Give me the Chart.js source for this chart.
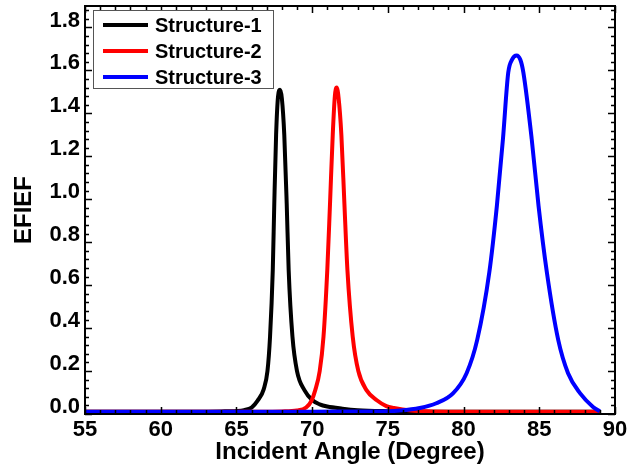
<!DOCTYPE html>
<html>
<head>
<meta charset="utf-8">
<title>EFIEF vs Incident Angle</title>
<script src="https://cdn.jsdelivr.net/npm/chart.js@4.4.1/dist/chart.umd.min.js"></script>
<style>
    html, body { margin: 0; padding: 0; background: #ffffff; }
    #wrap { width: 639px; height: 471px; }
</style>
</head>
<body>
<div id="wrap"><canvas id="efiefChart" width="639" height="471"></canvas></div>
<script>
// Dati (angolo in gradi, EFIEF)
const seriesLabels = ["Structure-1", "Structure-2", "Structure-3"];
const seriesColors = ["#000000", "#ff0000", "#0000ff"];

const s1Angle = [55, 60, 64, 65, 65.5, 66.0, 66.4, 66.8, 67.05, 67.22, 67.4, 67.5, 67.62, 67.75, 67.88, 68.0, 68.16, 68.32, 68.45, 68.7, 69.0, 69.5, 70.0, 70.5, 71, 72, 73, 75, 77, 80, 85, 89];
const s1Efief = [0.01, 0.01, 0.012, 0.014, 0.018, 0.03, 0.062, 0.115, 0.2, 0.36, 0.67, 0.98, 1.3, 1.48, 1.51, 1.47, 1.3, 0.98, 0.67, 0.36, 0.2, 0.11, 0.065, 0.045, 0.035, 0.025, 0.018, 0.013, 0.011, 0.01, 0.01, 0.01];

const s2Angle = [55, 60, 65, 68, 69, 69.6, 69.97, 70.2, 70.5, 70.75, 71.0, 71.18, 71.36, 71.5, 71.62, 71.75, 71.93, 72.13, 72.33, 72.68, 73.05, 73.6, 74.27, 74.9, 75.4, 76.5, 78, 80, 85, 89];
const s2Efief = [0.01, 0.01, 0.01, 0.012, 0.016, 0.03, 0.064, 0.11, 0.2, 0.36, 0.67, 0.98, 1.3, 1.48, 1.52, 1.47, 1.3, 0.98, 0.67, 0.36, 0.2, 0.11, 0.064, 0.037, 0.028, 0.016, 0.012, 0.01, 0.01, 0.01];

const s3Angle = [55, 65, 70, 73, 75, 75.8, 77.1, 78.2, 79.3, 80.2, 80.9, 81.7, 82.2, 82.6, 82.95, 83.2, 83.5, 83.75, 83.95, 84.5, 84.95, 85.5, 86.25, 86.9, 87.7, 88.55, 89.0];
const s3Efief = [0.01, 0.01, 0.011, 0.012, 0.013, 0.016, 0.028, 0.05, 0.096, 0.19, 0.345, 0.66, 0.97, 1.28, 1.59, 1.65, 1.67, 1.65, 1.59, 1.28, 0.97, 0.66, 0.345, 0.19, 0.096, 0.033, 0.012];

// Assi
const X_MIN = 55, X_MAX = 90, X_STEP = 5, X_MINOR = 1;
const Y_MIN = 0, Y_MAX = 1.9, Y_STEP = 0.2, Y_MINOR = 0.04;
const yTickValues = [0, 0.2, 0.4, 0.6, 0.8, 1.0, 1.2, 1.4, 1.6, 1.8];

function toPoints(xs, ys) {
    return xs.map((x, i) => ({ x: x, y: ys[i] }));
}

// Cornice del grafico con tacche rivolte verso l'interno
const frameTicks = {
    id: "frameTicks",
    afterDatasetsDraw(chart) {
        const { ctx, chartArea: a, scales: { x, y } } = chart;
        ctx.save();
        ctx.strokeStyle = "#000";
        ctx.lineWidth = 1.5;
        ctx.beginPath();
        const nx = Math.round((X_MAX - X_MIN) / X_MINOR);
        for (let i = 0; i <= nx; i++) {
            const v = X_MIN + i * X_MINOR;
            const px = Math.round(x.getPixelForValue(v)) + 0.5;
            const len = (i % Math.round(X_STEP / X_MINOR) === 0) ? 7 : 4;
            ctx.moveTo(px, a.bottom); ctx.lineTo(px, a.bottom - len);
            ctx.moveTo(px, a.top); ctx.lineTo(px, a.top + len);
        }
        const ny = Math.floor((Y_MAX - Y_MIN) / Y_MINOR + 1e-6);
        for (let i = 0; i <= ny; i++) {
            const v = Y_MIN + i * Y_MINOR;
            const py = Math.round(y.getPixelForValue(v)) + 0.5;
            const len = (i % Math.round(Y_STEP / Y_MINOR) === 0) ? 7 : 4;
            ctx.moveTo(a.left, py); ctx.lineTo(a.left + len, py);
            ctx.moveTo(a.right, py); ctx.lineTo(a.right - len, py);
        }
        ctx.stroke();
        ctx.lineWidth = 2;
        ctx.strokeRect(a.left, a.top, a.right - a.left, a.bottom - a.top);
        ctx.restore();
    }
};

// Legenda dentro l'area del grafico, in alto a sinistra
const boxLegend = {
    id: "boxLegend",
    afterDraw(chart) {
        const { ctx, chartArea: a } = chart;
        const x0 = a.left + 8, y0 = a.top + 4, w = 180, rowH = 26;
        ctx.save();
        ctx.fillStyle = "#ffffff";
        ctx.fillRect(x0, y0, w, rowH * 3);
        ctx.strokeStyle = "#555555";
        ctx.lineWidth = 1;
        ctx.strokeRect(x0 + 0.5, y0 + 0.5, w, rowH * 3);
        chart.data.datasets.forEach((ds, i) => {
            const cy = y0 + 15 + i * rowH;
            ctx.strokeStyle = ds.borderColor;
            ctx.lineWidth = 4;
            ctx.beginPath();
            ctx.moveTo(x0 + 10, cy);
            ctx.lineTo(x0 + 55, cy);
            ctx.stroke();
            ctx.fillStyle = "#000";
            ctx.font = "bold 20px 'Liberation Sans', Arial, sans-serif";
            ctx.textBaseline = "middle";
            ctx.textAlign = "left";
            ctx.fillText(ds.label, x0 + 62, cy + 1);
        });
        ctx.restore();
    }
};

const tickFont = { family: "'Liberation Sans', Arial, sans-serif", size: 22, weight: "bold" };
const titleFont = { family: "'Liberation Sans', Arial, sans-serif", size: 24, weight: "bold" };

const datasets = [
    { label: seriesLabels[0], data: toPoints(s1Angle, s1Efief), borderColor: seriesColors[0], order: 3 },
    { label: seriesLabels[1], data: toPoints(s2Angle, s2Efief), borderColor: seriesColors[1], order: 2 },
    { label: seriesLabels[2], data: toPoints(s3Angle, s3Efief), borderColor: seriesColors[2], order: 1 }
].map(ds => Object.assign(ds, {
    backgroundColor: ds.borderColor,
    borderWidth: 4,
    pointRadius: 0,
    fill: false,
    cubicInterpolationMode: "monotone"
}));

new Chart(document.getElementById("efiefChart"), {
    type: "line",
    data: { datasets: datasets },
    options: {
        responsive: false,
        animation: false,
        devicePixelRatio: 1,
        layout: { padding: { top: 6, right: 24, left: 0, bottom: 0 } },
        plugins: {
            legend: { display: false },
            tooltip: { enabled: false }
        },
        scales: {
            x: {
                type: "linear",
                min: X_MIN,
                max: X_MAX,
                grid: { display: false, drawTicks: false },
                border: { display: false },
                ticks: {
                    stepSize: X_STEP,
                    color: "#000",
                    font: tickFont,
                    padding: 3,
                    maxRotation: 0,
                    callback: v => String(v)
                },
                title: {
                    display: true,
                    text: "Incident Angle (Degree)",
                    color: "#000",
                    font: titleFont,
                    padding: { top: 0, bottom: 4 }
                },
                afterFit(scale) {
                    scale.height = 57;
                    scale.paddingLeft = 0;
                    scale.paddingRight = 0;
                }
            },
            y: {
                type: "linear",
                min: Y_MIN,
                max: Y_MAX,
                grid: { display: false, drawTicks: false },
                border: { display: false },
                ticks: {
                    color: "#000",
                    font: tickFont,
                    padding: 5,
                    labelOffset: -7,
                    callback: v => v.toFixed(1)
                },
                afterBuildTicks(scale) {
                    scale.ticks = yTickValues.map(v => ({ value: v }));
                },
                title: {
                    display: true,
                    text: "EFIEF",
                    color: "#000",
                    font: titleFont,
                    padding: { top: 10, bottom: 0 }
                },
                afterFit(scale) {
                    scale.width = 85;
                    scale.paddingTop = 0;
                    scale.paddingBottom = 0;
                }
            }
        }
    },
    plugins: [frameTicks, boxLegend]
});
</script>
</body>
</html>
